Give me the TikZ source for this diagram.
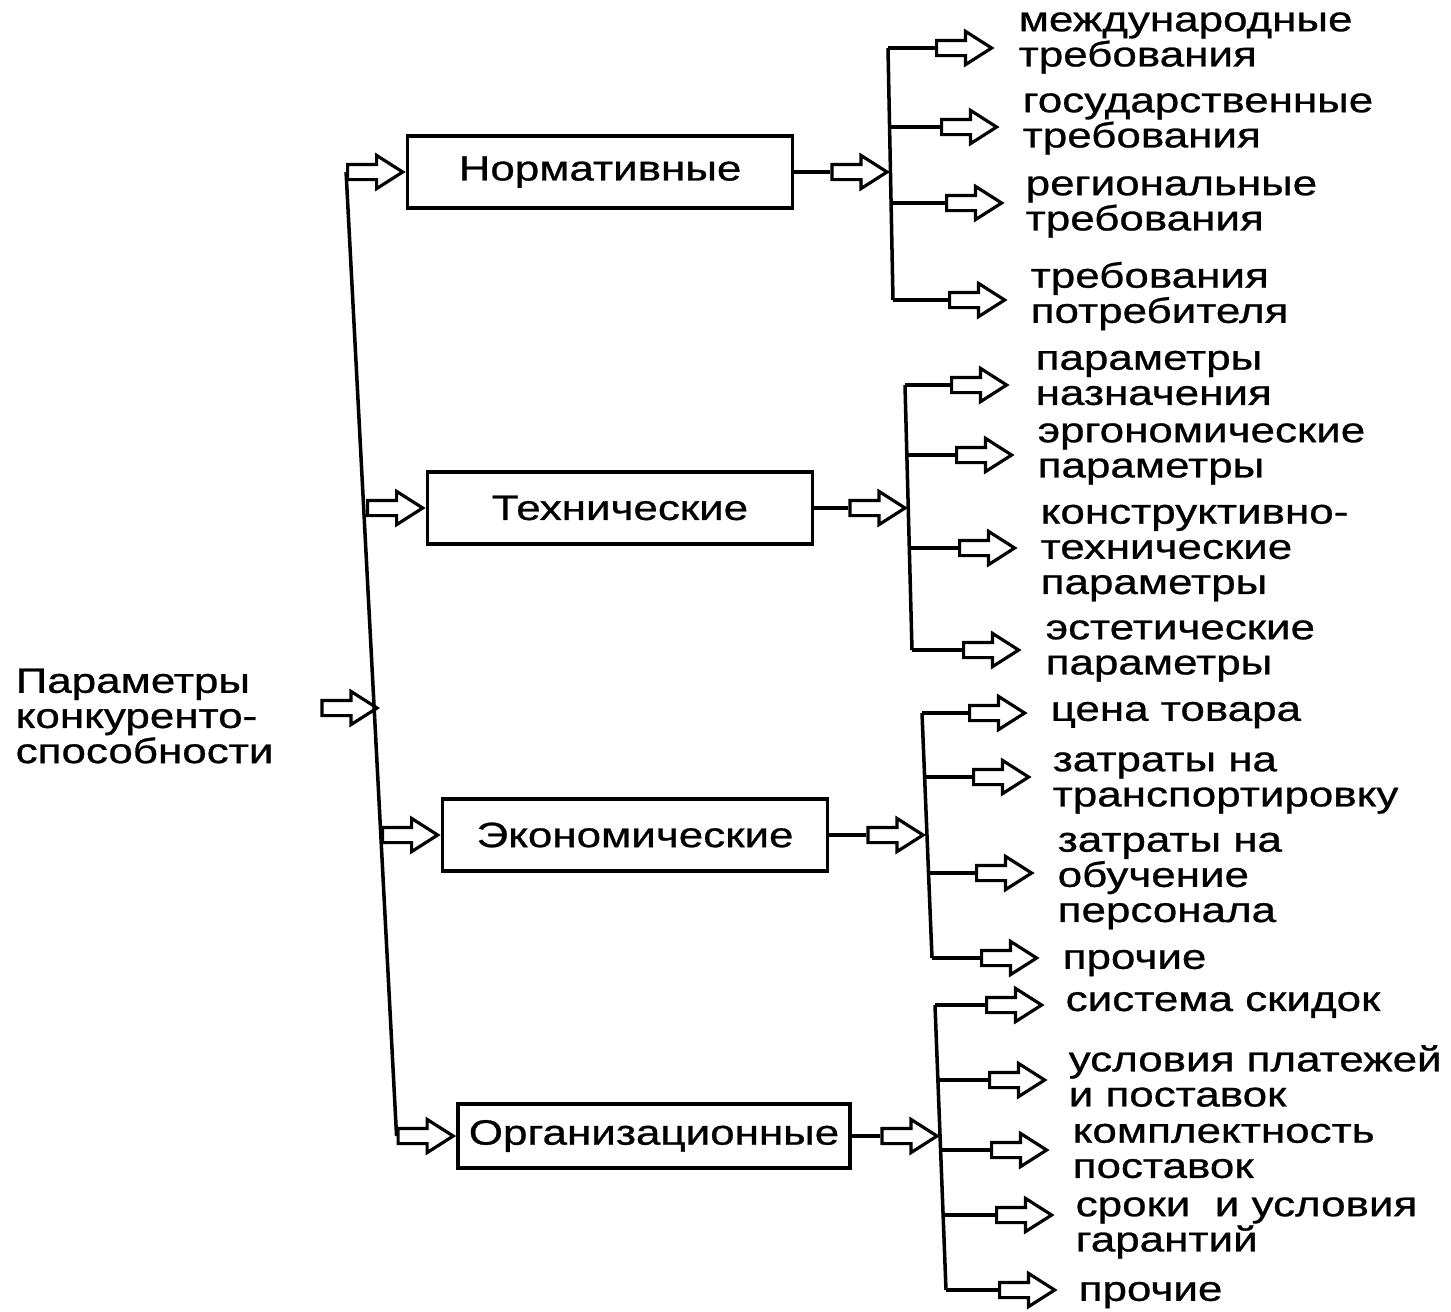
\documentclass[tikz,border=0pt]{standalone}
\usepackage{fontspec}
\setmainfont[FakeStretch=1.25,FakeBold=0.8]{Liberation Sans}
\usetikzlibrary{shapes.arrows}

\tikzset{
  ln/.style={line width=1pt},
  grp/.style={draw,line width=1pt,minimum width=3.85cm,minimum height=0.72cm,inner sep=0pt},
  hollow/.style={single arrow,draw,line width=0.9pt,inner sep=0pt,
    minimum height=0.55cm,single arrow head extend=0.09cm,
    single arrow tip angle=65,text height=0.12cm},
  lbl/.style={anchor=west,align=left,inner sep=0pt,font=\fontsize{10}{10}\selectfont}
}

\begin{document}
\begin{tikzpicture}[x=0.01cm,y=-0.01cm]
\useasboundingbox (0,0) rectangle (1451,1311);

% left part
\node[lbl] (main) at (15,716) {Параметры\\конкуренто-\\способности};
\coordinate (join) at (380,708);
\node[hollow,anchor=tip] (inarr) at (join) {};

\node[grp,font=\fontsize{10}{10}\selectfont] (norm) at (600,172) {Нормативные};
\node[grp,font=\fontsize{10}{10}\selectfont] (tech) at (620,508) {Технические};
\node[grp,font=\fontsize{10}{10}\selectfont] (econ) at (635,835) {Экономические};
\node[grp,minimum width=3.92cm,minimum height=0.64cm,font=\fontsize{10}{10}\selectfont] (org) at (654,1136) {Организационные};

\node[hollow,anchor=tip] (a1) at (norm.west) {};
\node[hollow,anchor=tip] (a2) at (tech.west) {};
\node[hollow,anchor=tip] (a3) at (econ.west) {};
\node[hollow,anchor=tip] (a4) at (org.west) {};
\draw[ln] (a1.tail) -- (a4.tail);

% нормативные
\coordinate (n1) at (888,48);
\coordinate (n2) at (889.5,127);
\coordinate (n3) at (891,203);
\coordinate (n4) at (893,300);
\draw[ln] (n1) -- (n4);
\node[hollow,anchor=tip] (na) at (890,172) {};
\draw[ln] (norm.east) -- (na.tail);
\node[hollow,anchor=tail] (na1) at (935,48) {};
\node[hollow,anchor=tail] (na2) at (940,127) {};
\node[hollow,anchor=tail] (na3) at (945,203) {};
\node[hollow,anchor=tail] (na4) at (948,300) {};
\draw[ln] (n1) -- (na1.tail);
\draw[ln] (n2) -- (na2.tail);
\draw[ln] (n3) -- (na3.tail);
\draw[ln] (n4) -- (na4.tail);
\node[lbl] (nl1) at (1018,43) {международные\\требования};
\node[lbl] (nl2) at (1022,124) {государственные\\требования};
\node[lbl] (nl3) at (1025,207) {региональные\\требования};
\node[lbl] (nl4) at (1030,296) {требования\\потребителя};

% технические
\coordinate (t1) at (905,385);
\coordinate (t2) at (907,455);
\coordinate (t3) at (910,548);
\coordinate (t4) at (912,650);
\draw[ln] (t1) -- (t4);
\node[hollow,anchor=tip] (ta) at (908,508) {};
\draw[ln] (tech.east) -- (ta.tail);
\node[hollow,anchor=tail] (ta1) at (950,385) {};
\node[hollow,anchor=tail] (ta2) at (955,455) {};
\node[hollow,anchor=tail] (ta3) at (958,548) {};
\node[hollow,anchor=tail] (ta4) at (962,650) {};
\draw[ln] (t1) -- (ta1.tail);
\draw[ln] (t2) -- (ta2.tail);
\draw[ln] (t3) -- (ta3.tail);
\draw[ln] (t4) -- (ta4.tail);
\node[lbl] (tl1) at (1035,378) {параметры\\назначения};
\node[lbl] (tl2) at (1037,454) {эргономические\\параметры};
\node[lbl] (tl3) at (1040,553) {конструктивно-\\технические\\параметры};
\node[lbl] (tl4) at (1045,651) {эстетические\\параметры};

% экономические
\coordinate (e1) at (922,713);
\coordinate (e2) at (924,777);
\coordinate (e3) at (928,873);
\coordinate (e4) at (932,958);
\draw[ln] (e1) -- (e4);
\node[hollow,anchor=tip] (ea) at (926,835) {};
\draw[ln] (econ.east) -- (ea.tail);
\node[hollow,anchor=tail] (ea1) at (968,713) {};
\node[hollow,anchor=tail] (ea2) at (972,777) {};
\node[hollow,anchor=tail] (ea3) at (975,873) {};
\node[hollow,anchor=tail] (ea4) at (980,958) {};
\draw[ln] (e1) -- (ea1.tail);
\draw[ln] (e2) -- (ea2.tail);
\draw[ln] (e3) -- (ea3.tail);
\draw[ln] (e4) -- (ea4.tail);
\node[lbl] (el1) at (1050,715) {цена товара};
\node[lbl] (el2) at (1052,783) {затраты на\\транспортировку};
\node[lbl] (el3) at (1057,881) {затраты на\\обучение\\персонала};
\node[lbl] (el4) at (1062,963) {прочие};

% организационные
\coordinate (o1) at (935,1005);
\coordinate (o2) at (938,1080);
\coordinate (o3) at (940,1150);
\coordinate (o4) at (943,1215);
\coordinate (o5) at (946,1290);
\draw[ln] (o1) -- (o5);
\node[hollow,anchor=tip] (oa) at (940,1136) {};
\draw[ln] (org.east) -- (oa.tail);
\node[hollow,anchor=tail] (oa1) at (985,1005) {};
\node[hollow,anchor=tail] (oa2) at (988,1080) {};
\node[hollow,anchor=tail] (oa3) at (990,1150) {};
\node[hollow,anchor=tail] (oa4) at (995,1215) {};
\node[hollow,anchor=tail] (oa5) at (998,1290) {};
\draw[ln] (o1) -- (oa1.tail);
\draw[ln] (o2) -- (oa2.tail);
\draw[ln] (o3) -- (oa3.tail);
\draw[ln] (o4) -- (oa4.tail);
\draw[ln] (o5) -- (oa5.tail);
\node[lbl] (ol1) at (1065,1005) {система скидок};
\node[lbl] (ol2) at (1068,1076) {условия платежей\\и поставок};
\node[lbl] (ol3) at (1072,1151) {комплектность\\поставок};
\node[lbl] (ol4) at (1075,1228) {сроки\ \ и условия\\гарантий};
\node[lbl] (ol5) at (1078,1295) {прочие};
\end{tikzpicture}
\end{document}
